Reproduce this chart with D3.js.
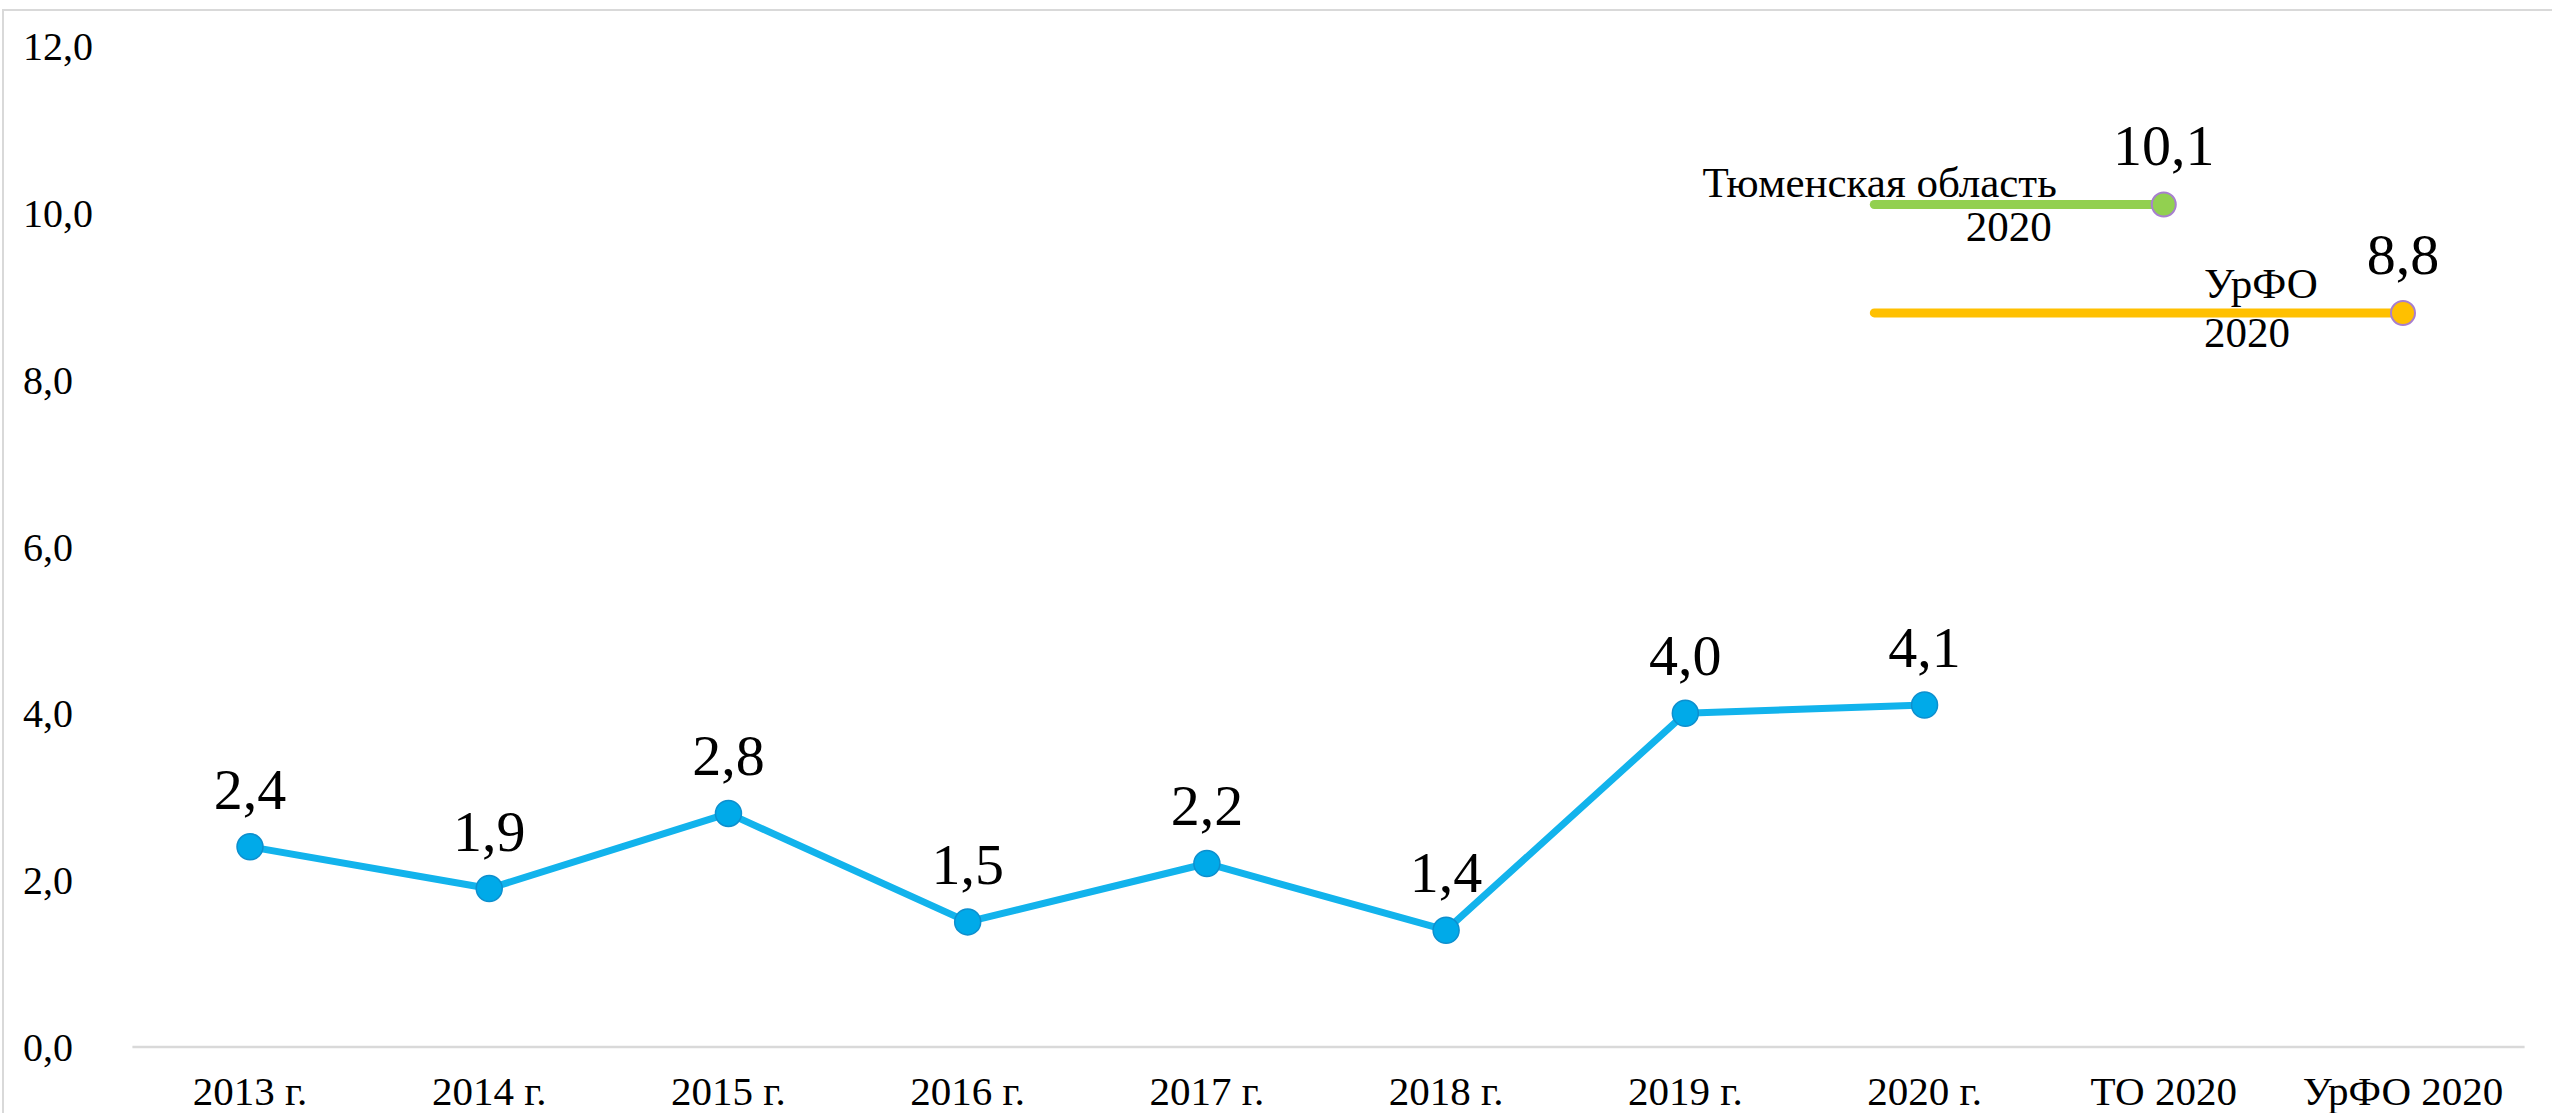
<!DOCTYPE html>
<html>
<head>
<meta charset="utf-8">
<script src="https://cdn.jsdelivr.net/npm/d3@7"></script>
<style>
  html, body { margin: 0; padding: 0; background: #fff; }
  svg { display: block; }
  text { font-family: "Liberation Serif", "Times New Roman", serif; fill: #000; }
</style>
</head>
<body>
<svg id="chart" width="2552" height="1113"></svg>
<script>
// ---- data ----
const categories = ["2013 г.", "2014 г.", "2015 г.", "2016 г.", "2017 г.", "2018 г.", "2019 г.", "2020 г.", "ТО 2020", "УрФО 2020"];
const years = ["2013 г.", "2014 г.", "2015 г.", "2016 г.", "2017 г.", "2018 г.", "2019 г.", "2020 г."];
const values = [2.4, 1.9, 2.8, 1.5, 2.2, 1.4, 4.0, 4.1];
const toCategory = "ТО 2020";
const toValue = 10.1;
const toLabel = ["Тюменская область", "2020"];
const urfoCategory = "УрФО 2020";
const urfoValue = 8.8;
const urfoLabel = ["УрФО", "2020"];
const yTicks = [0, 2, 4, 6, 8, 10, 12];

// ---- layout ----
const W = 2552, H = 1113;
const svg = d3.select("#chart");
const fmt = v => d3.format(".1f")(v).replace(".", ",");

// frame
svg.append("rect").attr("x", 3).attr("y", 10).attr("width", W + 10).attr("height", H + 10)
  .attr("fill", "#fff").attr("stroke", "#d9d9d9").attr("stroke-width", 2);

const x = d3.scaleBand().domain(categories).range([130.4, 2522.6]).padding(0);
const xc = c => x(c) + x.bandwidth() / 2;
const y = d3.scaleLinear().domain([0, 12]).range([1047, 46]);

// y axis labels (left aligned)
const yAxis = d3.axisLeft(y).tickValues(yTicks).tickFormat(fmt).tickSize(0);
const gy = svg.append("g").attr("transform", "translate(23,0)").call(yAxis);
gy.select(".domain").remove();
gy.selectAll("text").attr("text-anchor", "start").attr("x", 0).attr("dy", "0.34em")
  .style("font-size", "40px").style("font-family", "Liberation Serif");

// x axis baseline + labels
const xAxis = d3.axisBottom(x).tickSize(0).tickPadding(0);
const gx = svg.append("g").attr("transform", `translate(0,${y(0)})`).call(xAxis);
gx.select(".domain").attr("stroke", "#d9d9d9").attr("stroke-width", 2.5)
  .attr("d", `M${x.range()[0] + 2},0H${x.range()[1] + 2}`);
gx.selectAll("text").attr("y", 58).attr("dy", 0)
  .style("font-size", "41px").style("font-family", "Liberation Serif");

// main series
const pts = years.map((c, i) => ({ c, v: values[i] }));
const line = d3.line().x(d => xc(d.c)).y(d => y(d.v));
svg.append("path").datum(pts).attr("d", line).attr("fill", "none")
  .attr("stroke", "#12b3ec").attr("stroke-width", 7).attr("stroke-linejoin", "round");
svg.selectAll(".pt").data(pts).join("circle").attr("class", "pt")
  .attr("cx", d => xc(d.c)).attr("cy", d => y(d.v)).attr("r", 13)
  .attr("fill", "#00aae9").attr("stroke", "#0d8fce").attr("stroke-width", 1.5);
svg.selectAll(".vl").data(pts).join("text").attr("class", "vl")
  .attr("x", d => xc(d.c)).attr("y", d => y(d.v) - 38)
  .attr("text-anchor", "middle").style("font-size", "58px").text(d => fmt(d.v));

// comparison lines
const startPos = x.range()[0] + 7.29 * x.bandwidth();
const comps = [
  { c: toCategory, v: toValue, color: "#92d050", label: toLabel },
  { c: urfoCategory, v: urfoValue, color: "#ffc000", label: urfoLabel }
];
comps.forEach(d => {
  svg.append("line").attr("x1", startPos).attr("x2", xc(d.c))
    .attr("y1", y(d.v)).attr("y2", y(d.v))
    .attr("stroke", d.color).attr("stroke-width", 9).attr("stroke-linecap", "round");
  svg.append("circle").attr("cx", xc(d.c)).attr("cy", y(d.v)).attr("r", 12)
    .attr("fill", d.color).attr("stroke", "#a77fcf").attr("stroke-width", 2);
  svg.append("text").attr("x", xc(d.c)).attr("y", y(d.v) - 39)
    .attr("text-anchor", "middle").style("font-size", "58px").text(fmt(d.v));
});

// series labels
const toY = y(toValue), toX = xc(toCategory);
svg.append("text").attr("x", toX - 107).attr("y", toY - 7).attr("text-anchor", "end")
  .style("font-size", "43px").text(toLabel[0]);
svg.append("text").attr("x", toX - 112).attr("y", toY + 37).attr("text-anchor", "end")
  .style("font-size", "43px").text(toLabel[1]);
const uY = y(urfoValue), uX = xc(urfoCategory);
svg.append("text").attr("x", uX - 199).attr("y", uY - 15).attr("text-anchor", "start")
  .style("font-size", "43px").text(urfoLabel[0]);
svg.append("text").attr("x", uX - 199).attr("y", uY + 34).attr("text-anchor", "start")
  .style("font-size", "43px").text(urfoLabel[1]);
</script>
</body>
</html>
